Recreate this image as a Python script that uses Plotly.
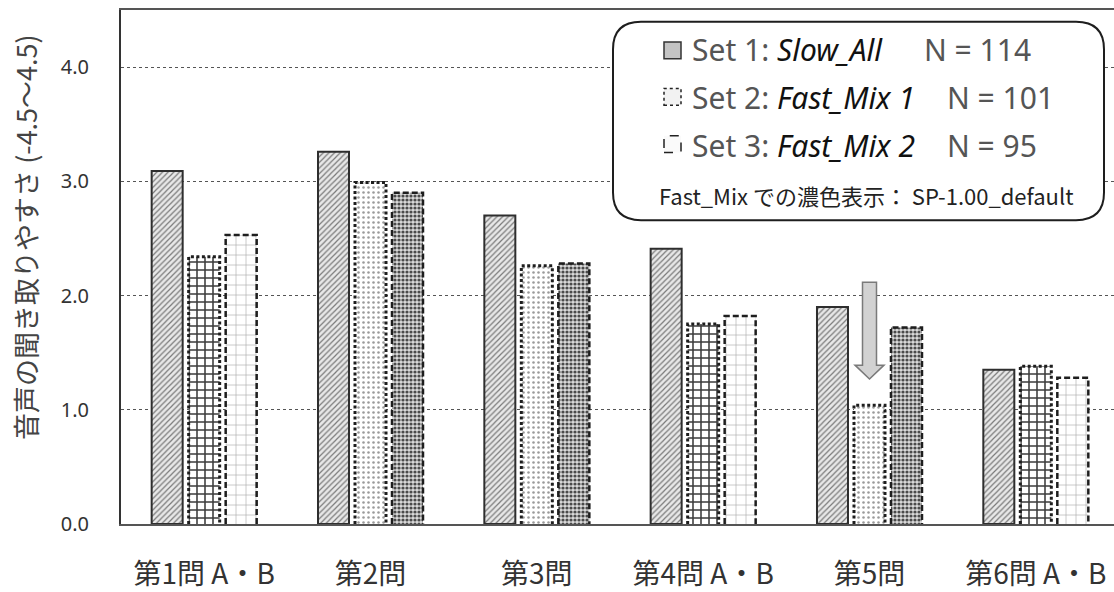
import plotly.graph_objects as go

# Question groups on the x axis
categories = ["第1問 A・B", "第2問", "第3問", "第4問 A・B", "第5問", "第6問 A・B"]

# Mean rating per question for each stimulus set
set1_values = [3.09, 3.26, 2.70, 2.41, 1.90, 1.35]
set2_values = [2.34, 2.99, 2.26, 1.75, 1.04, 1.38]
set3_values = [2.53, 2.90, 2.28, 1.82, 1.72, 1.28]

# Whether the set used the SP-1.00 default speed for that question (drawn dark)
set2_default = [True, False, False, True, False, True]
set3_default = [False, True, True, False, True, False]

y_ticks = [0, 1, 2, 3, 4]

# ---- layout geometry (pixels) ----
W, H = 1114, 592
L, R, T, B = 121, 1114, 10, 531
X_RANGE = [-0.5, 5.47]
unit = (R - L) / (X_RANGE[1] - X_RANGE[0])
BAR_W = 31 / unit
SLOT = 37 / unit


def px(x):
    return (x - L) / (R - L)


def py(y):
    return (B - y) / (B - T)


FONT_JP = "Noto Sans CJK JP"

PATTERNS = {
    "hatch": dict(shape="/", fgcolor="#7a7a7a", bgcolor="#e8e8e8", size=4, solidity=0.3),
    "brick": dict(shape="+", fgcolor="#3c3c3c", bgcolor="#ffffff", size=8, solidity=0.35),
    "light_dots": dict(shape=".", fgcolor="#9a9a9a", bgcolor="#ffffff", size=5, solidity=0.2),
    "dark_dots": dict(shape=".", fgcolor="#4a4a4a", bgcolor="#dadada", size=4, solidity=0.5),
    "light_grid": dict(shape="+", fgcolor="#a8a8a8", bgcolor="#ffffff", size=10, solidity=0.12),
}


def pattern_arrays(kinds):
    keys = ["shape", "fgcolor", "bgcolor", "size", "solidity"]
    return {k: [PATTERNS[kd][k] for kd in kinds] for k in keys}


set2_kinds = ["brick" if d else "light_dots" for d in set2_default]
set3_kinds = ["dark_dots" if d else "light_grid" for d in set3_default]
set1_kinds = ["hatch"] * len(categories)

series = [
    (set1_values, set1_kinds, -SLOT, None),
    (set2_values, set2_kinds, 0.0, dict(dash="3px,2.5px", width=3)),
    (set3_values, set3_kinds, SLOT, dict(dash="6px,3px", width=2.5)),
]

fig = go.Figure()

for values, kinds, offset, border in series:
    xs = [i + offset for i in range(len(values))]
    pat = pattern_arrays(kinds)
    fig.add_trace(go.Bar(
        x=xs, y=values, width=BAR_W,
        marker=dict(
            color="white",
            pattern=dict(fillmode="replace", **pat),
            line=dict(color="#2e2e2e", width=2 if border is None else 0),
        ),
        hoverinfo="skip", showlegend=False,
    ))
    if border is not None:
        ox, oy = [], []
        for x, v in zip(xs, values):
            ox += [x - BAR_W / 2, x - BAR_W / 2, x + BAR_W / 2, x + BAR_W / 2, None]
            oy += [0, v, v, 0, None]
        fig.add_trace(go.Scatter(
            x=ox, y=oy, mode="lines",
            line=dict(color="#1e1e1e", width=border["width"], dash=border["dash"]),
            hoverinfo="skip", showlegend=False, cliponaxis=False,
        ))

shapes = []

# rounded legend box
x0, y0, x1, y1, r = 613, 22, 1104, 223, 28
path = (
    f"M {px(x0 + r)},{py(y0)} L {px(x1 - r)},{py(y0)} "
    f"Q {px(x1)},{py(y0)} {px(x1)},{py(y0 + r)} L {px(x1)},{py(y1 - r)} "
    f"Q {px(x1)},{py(y1)} {px(x1 - r)},{py(y1)} L {px(x0 + r)},{py(y1)} "
    f"Q {px(x0)},{py(y1)} {px(x0)},{py(y1 - r)} L {px(x0)},{py(y0 + r)} "
    f"Q {px(x0)},{py(y0)} {px(x0 + r)},{py(y0)} Z"
)
shapes.append(dict(type="path", xref="paper", yref="paper", path=path,
                   fillcolor="white", line=dict(color="#1e1e1e", width=2), layer="above"))

# legend swatches
swatches = [
    (51, "#c4c4c4", "solid", "#333333"),
    (98, "#f2f2f2", "dot", "#222222"),
    (146, "#fafafa", "dash", "#222222"),
]
for cy, fill, dash, lc in swatches:
    shapes.append(dict(type="rect", xref="paper", yref="paper",
                       x0=px(664), x1=px(681), y0=py(cy + 8.5), y1=py(cy - 8.5),
                       fillcolor=fill, line=dict(color=lc, width=1.5, dash=dash), layer="above"))

# downward arrow over 第5問 Set 2
ax = 869.5
arrow = [(ax - 7, 286), (ax + 7, 286), (ax + 7, 370), (ax + 14.5, 370), (ax, 384),
         (ax - 14.5, 370), (ax - 7, 370)]
apath = "M " + " L ".join(f"{px(x)},{py(y)}" for x, y in arrow) + " Z"
shapes.append(dict(type="path", xref="paper", yref="paper", path=apath,
                   fillcolor="#d2d2d2", line=dict(color="#7a7a7a", width=1.5), layer="above"))

annotations = []
legend_rows = [
    (50, "Set 1: ", "Slow_All", 922, "N = 114"),
    (99, "Set 2: ", "Fast_Mix 1", 945, "N = 101"),
    (147, "Set 3: ", "Fast_Mix 2", 945, "N = 95"),
]
for cy, lead, name, nx, ntext in legend_rows:
    annotations.append(dict(
        xref="paper", yref="paper", x=px(690), y=py(cy), xanchor="left", yanchor="middle",
        text=f"{lead}<i><span style='color:#111'>{name}</span></i>", showarrow=False,
        font=dict(family="Noto Sans", size=30, color="#555555"),
    ))
    annotations.append(dict(
        xref="paper", yref="paper", x=px(nx), y=py(cy), xanchor="left", yanchor="middle",
        text=ntext, showarrow=False,
        font=dict(family="Noto Sans", size=30, color="#555555"),
    ))
annotations.append(dict(
    xref="paper", yref="paper", x=px(866), y=py(198), xanchor="center", yanchor="middle",
    text="Fast_Mix での濃色表示： SP-1.00_default", showarrow=False,
    font=dict(family=FONT_JP, size=22, color="#222222"),
))
annotations.append(dict(
    xref="paper", yref="paper", x=px(26), y=py(240), xanchor="center", yanchor="middle",
    text="音声の聞き取りやすさ (-4.5～4.5)", textangle=-90, showarrow=False,
    font=dict(family=FONT_JP, size=27, color="#444444"),
))

fig.update_layout(
    width=W, height=H,
    margin=dict(l=L, r=W - R, t=T, b=H - B),
    paper_bgcolor="white", plot_bgcolor="white",
    barmode="overlay",
    shapes=shapes, annotations=annotations,
    xaxis=dict(
        range=X_RANGE, tickmode="array", tickvals=list(range(len(categories))),
        ticktext=categories, showgrid=False, zeroline=False,
        showline=True, linecolor="#555555", linewidth=2, mirror=True,
        ticks="", ticklabelstandoff=24,
        tickfont=dict(family=FONT_JP, size=28, color="#333333"),
    ),
    yaxis=dict(
        range=[0, 4.5], tickmode="array", tickvals=y_ticks, tickformat=".1f",
        showgrid=True, gridcolor="#555555", griddash="dot", gridwidth=1,
        zeroline=False, showline=True, linecolor="#333333", linewidth=2,
        ticks="", ticklabelstandoff=26,
        tickfont=dict(family="Noto Sans", size=20, color="#333333"),
    ),
)

fig.write_html("out.html")
